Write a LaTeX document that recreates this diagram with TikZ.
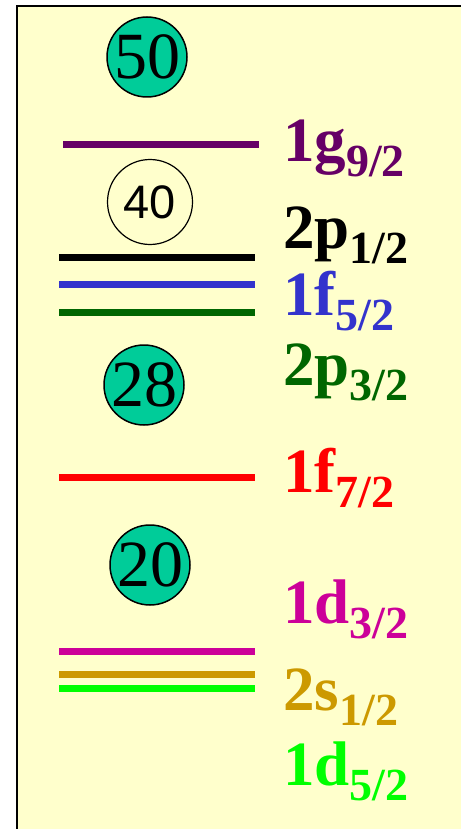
\documentclass[tikz,border=0pt]{standalone}
\usepackage{fontspec}
\setmainfont{Liberation Serif}
\newfontfamily\plainsans{Liberation Sans}
\newfontfamily\plainserif{Liberation Serif}
\usepackage{xcolor}
\usepackage{tikz}
\definecolor{paper}{HTML}{FFFFCC}
\definecolor{magicfill}{HTML}{00CC99}
\definecolor{gshell}{HTML}{660066}
\definecolor{fblue}{HTML}{3333CC}
\definecolor{pgreen}{HTML}{006600}
\definecolor{dmagenta}{HTML}{CC0099}
\definecolor{sgold}{HTML}{CC9900}
\definecolor{dlime}{HTML}{00FF00}
\newcommand{\orbit}[2]{#1\raisebox{-15pt}{\fontsize{46}{46}\selectfont #2}}

\begin{document}
\begin{tikzpicture}[
    x=1pt,y=-1pt,
    level/.style={line width=7pt},
    magic/.style={circle,draw,line width=1.5pt,fill=magicfill,minimum size=80pt,inner sep=0pt,font=\plainserif\fontsize{66}{66}\selectfont},
    subshell/.style={anchor=base west,inner sep=0pt,font=\plainserif\fontsize{63}{63}\selectfont\bfseries}
  ]
    \fill[white] (0,0) rectangle (460,829);
    \useasboundingbox (0,0) rectangle (460,829);
    \draw[line width=1.5pt,fill=paper] (17,6) rectangle (480,850);

    % magic numbers
    \node[magic] (n50) at (147,57) {50};
    \node[magic,fill=paper,line width=1.2pt,minimum size=85pt,font=\plainsans\fontsize{47}{47}\selectfont] (n40) at (150,202) {40};
    \node[magic] (n28) at (144,385) {28};
    \node[magic] (n20) at (150,565) {20};

    % levels
    \draw[level,gshell] (63,145) -- (259,145);
    \draw[level,black] (59,257) -- (255,257);
    \draw[level,fblue] (59,284) -- (255,284);
    \draw[level,pgreen] (59,312) -- (255,312);
    \draw[level,red] (59,477) -- (255,477);
    \draw[level,dmagenta] (59,651) -- (255,651);
    \draw[level,sgold] (59,674) -- (255,674);
    \draw[level,dlime] (59,688) -- (255,688);

    % subshell labels
    \node[subshell,text=gshell] (g92) at (283,161) {\orbit{1g}{9/2}};
    \node[subshell,text=black] (p12) at (283,248) {\orbit{2p}{1/2}};
    \node[subshell,text=fblue] (f52) at (283,315) {\orbit{1f}{5/2}};
    \node[subshell,text=pgreen] (p32) at (283,385) {\orbit{2p}{3/2}};
    \node[subshell,text=red] (f72) at (283,492) {\orbit{1f}{7/2}};
    \node[subshell,text=dmagenta] (d32) at (283,623) {\orbit{1d}{3/2}};
    \node[subshell,text=sgold] (s12) at (283,710) {\orbit{2s}{1/2}};
    \node[subshell,text=dlime] (d52) at (283,785) {\orbit{1d}{5/2}};
  \end{tikzpicture}
\end{document}
